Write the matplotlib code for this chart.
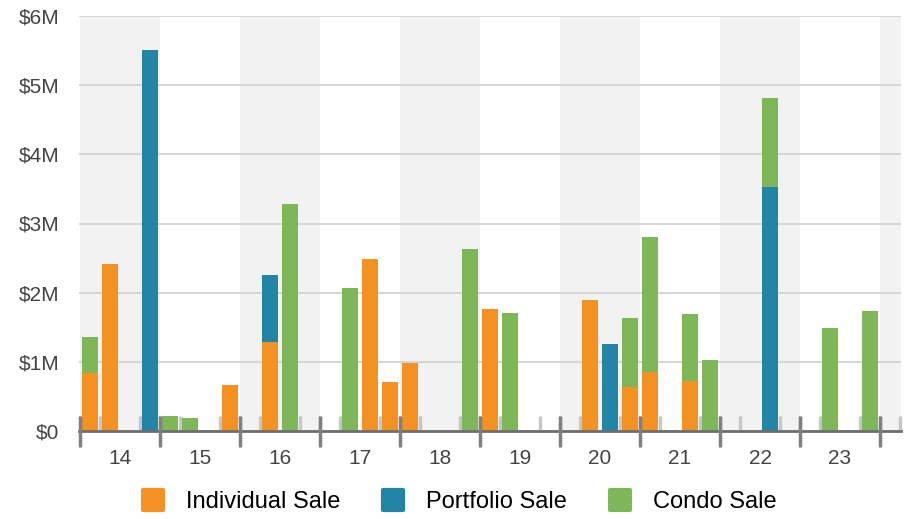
import numpy as np
import matplotlib
matplotlib.use("Agg")
import matplotlib.pyplot as plt
from matplotlib.lines import Line2D
from matplotlib.markers import MarkerStyle
import matplotlib.transforms as mtransforms

plt.rcParams['font.family'] = ['Liberation Sans', 'DejaVu Sans']

# years shown on the axis, four quarters each
years = ['14', '15', '16', '17', '18', '19', '20', '21', '22', '23']

# sale volume per quarter, $M (Q1..Q4 for each year)
individual = [0.84, 2.42, 0, 0,
              0, 0, 0, 0.66,
              0, 1.29, 0, 0,
              0, 0, 2.49, 0.71,
              0.98, 0, 0, 0,
              1.77, 0, 0, 0,
              0, 1.89, 0, 0.64,
              0.86, 0, 0.72, 0,
              0, 0, 0, 0,
              0, 0, 0, 0]
portfolio = [0, 0, 0, 5.51,
             0, 0, 0, 0,
             0, 0.97, 0, 0,
             0, 0, 0, 0,
             0, 0, 0, 0,
             0, 0, 0, 0,
             0, 0, 1.26, 0,
             0, 0, 0, 0,
             0, 0, 3.53, 0,
             0, 0, 0, 0]
condo = [0.52, 0, 0, 0,
         0.21, 0.19, 0, 0,
         0, 0, 3.28, 0,
         0, 2.07, 0, 0,
         0, 0, 0, 2.63,
         0, 1.70, 0, 0,
         0, 0, 0, 1.00,
         1.94, 0, 0.97, 1.03,
         0, 0, 1.29, 0,
         0, 1.49, 0, 1.73]

series = ['Individual Sale', 'Portfolio Sale', 'Condo Sale']
colors = ['#F39123', '#2285A5', '#7EB757']

fig = plt.figure(figsize=(9.09, 5.19), dpi=100)
ax = fig.add_axes([79 / 909, 1 - 431 / 519, 822 / 909, 415 / 519])

nq = len(individual)
x = np.arange(nq) + 0.5
ind = np.array(individual)
port = np.array(portfolio)
con = np.array(condo)

# alternating year bands (one extra band at the right edge)
for i in range(0, len(years) + 1, 2):
    ax.axvspan(4 * i, 4 * i + 4, color='#F2F2F2', lw=0, zorder=0)

ax.bar(x, ind, width=0.8, color=colors[0], zorder=2)
ax.bar(x, port, width=0.8, bottom=ind, color=colors[1], zorder=2)
ax.bar(x, con, width=0.8, bottom=ind + port, color=colors[2], zorder=2)

ax.set_xlim(-0.05, nq + 1.05)
ax.set_ylim(0, 6)

ax.set_yticks(range(7))
ax.set_yticklabels(['$0'] + ['$%dM' % v for v in range(1, 7)])
ax.yaxis.grid(True, color='#D3D3D3', lw=1.3, zorder=0.5)
ax.tick_params(axis='y', length=0, pad=14, labelsize=15, labelcolor='#444444')

ax.set_xticks([4 * i + 2 for i in range(len(years))])
ax.set_xticklabels(years)
ax.set_xticks(np.arange(0, nq + 2), minor=True)
ax.tick_params(axis='x', which='major', length=0, pad=13, labelsize=15,
               labelcolor='#444444')
ax.tick_params(axis='x', which='minor', direction='in', length=10.8,
               width=2.4, color='#C6C6C6')

for s in ['left', 'right', 'top']:
    ax.spines[s].set_visible(False)
ax.spines['bottom'].set_color('#6E6E6E')
ax.spines['bottom'].set_linewidth(2)
ax.spines['bottom'].set_zorder(3)

# darker ticks at year boundaries
trans = mtransforms.blended_transform_factory(ax.transData, ax.transAxes)
ax.vlines(np.arange(0, nq + 1, 4), -16 / 415, 15 / 415, transform=trans,
          colors='#808080', lw=2.5, clip_on=False, zorder=4)

handles = [Line2D([], [], ls='none',
                  marker=MarkerStyle('s', joinstyle='round'),
                  markersize=14, markerfacecolor=c, markeredgecolor=c,
                  markeredgewidth=3) for c in colors]
fig.legend(handles, series, loc='center', bbox_to_anchor=(459 / 909, 1 - 502 / 519),
           ncol=3, frameon=False, fontsize=17, handlelength=1.0,
           handletextpad=0.9, columnspacing=1.75)

fig.savefig('out.png', dpi=100)
